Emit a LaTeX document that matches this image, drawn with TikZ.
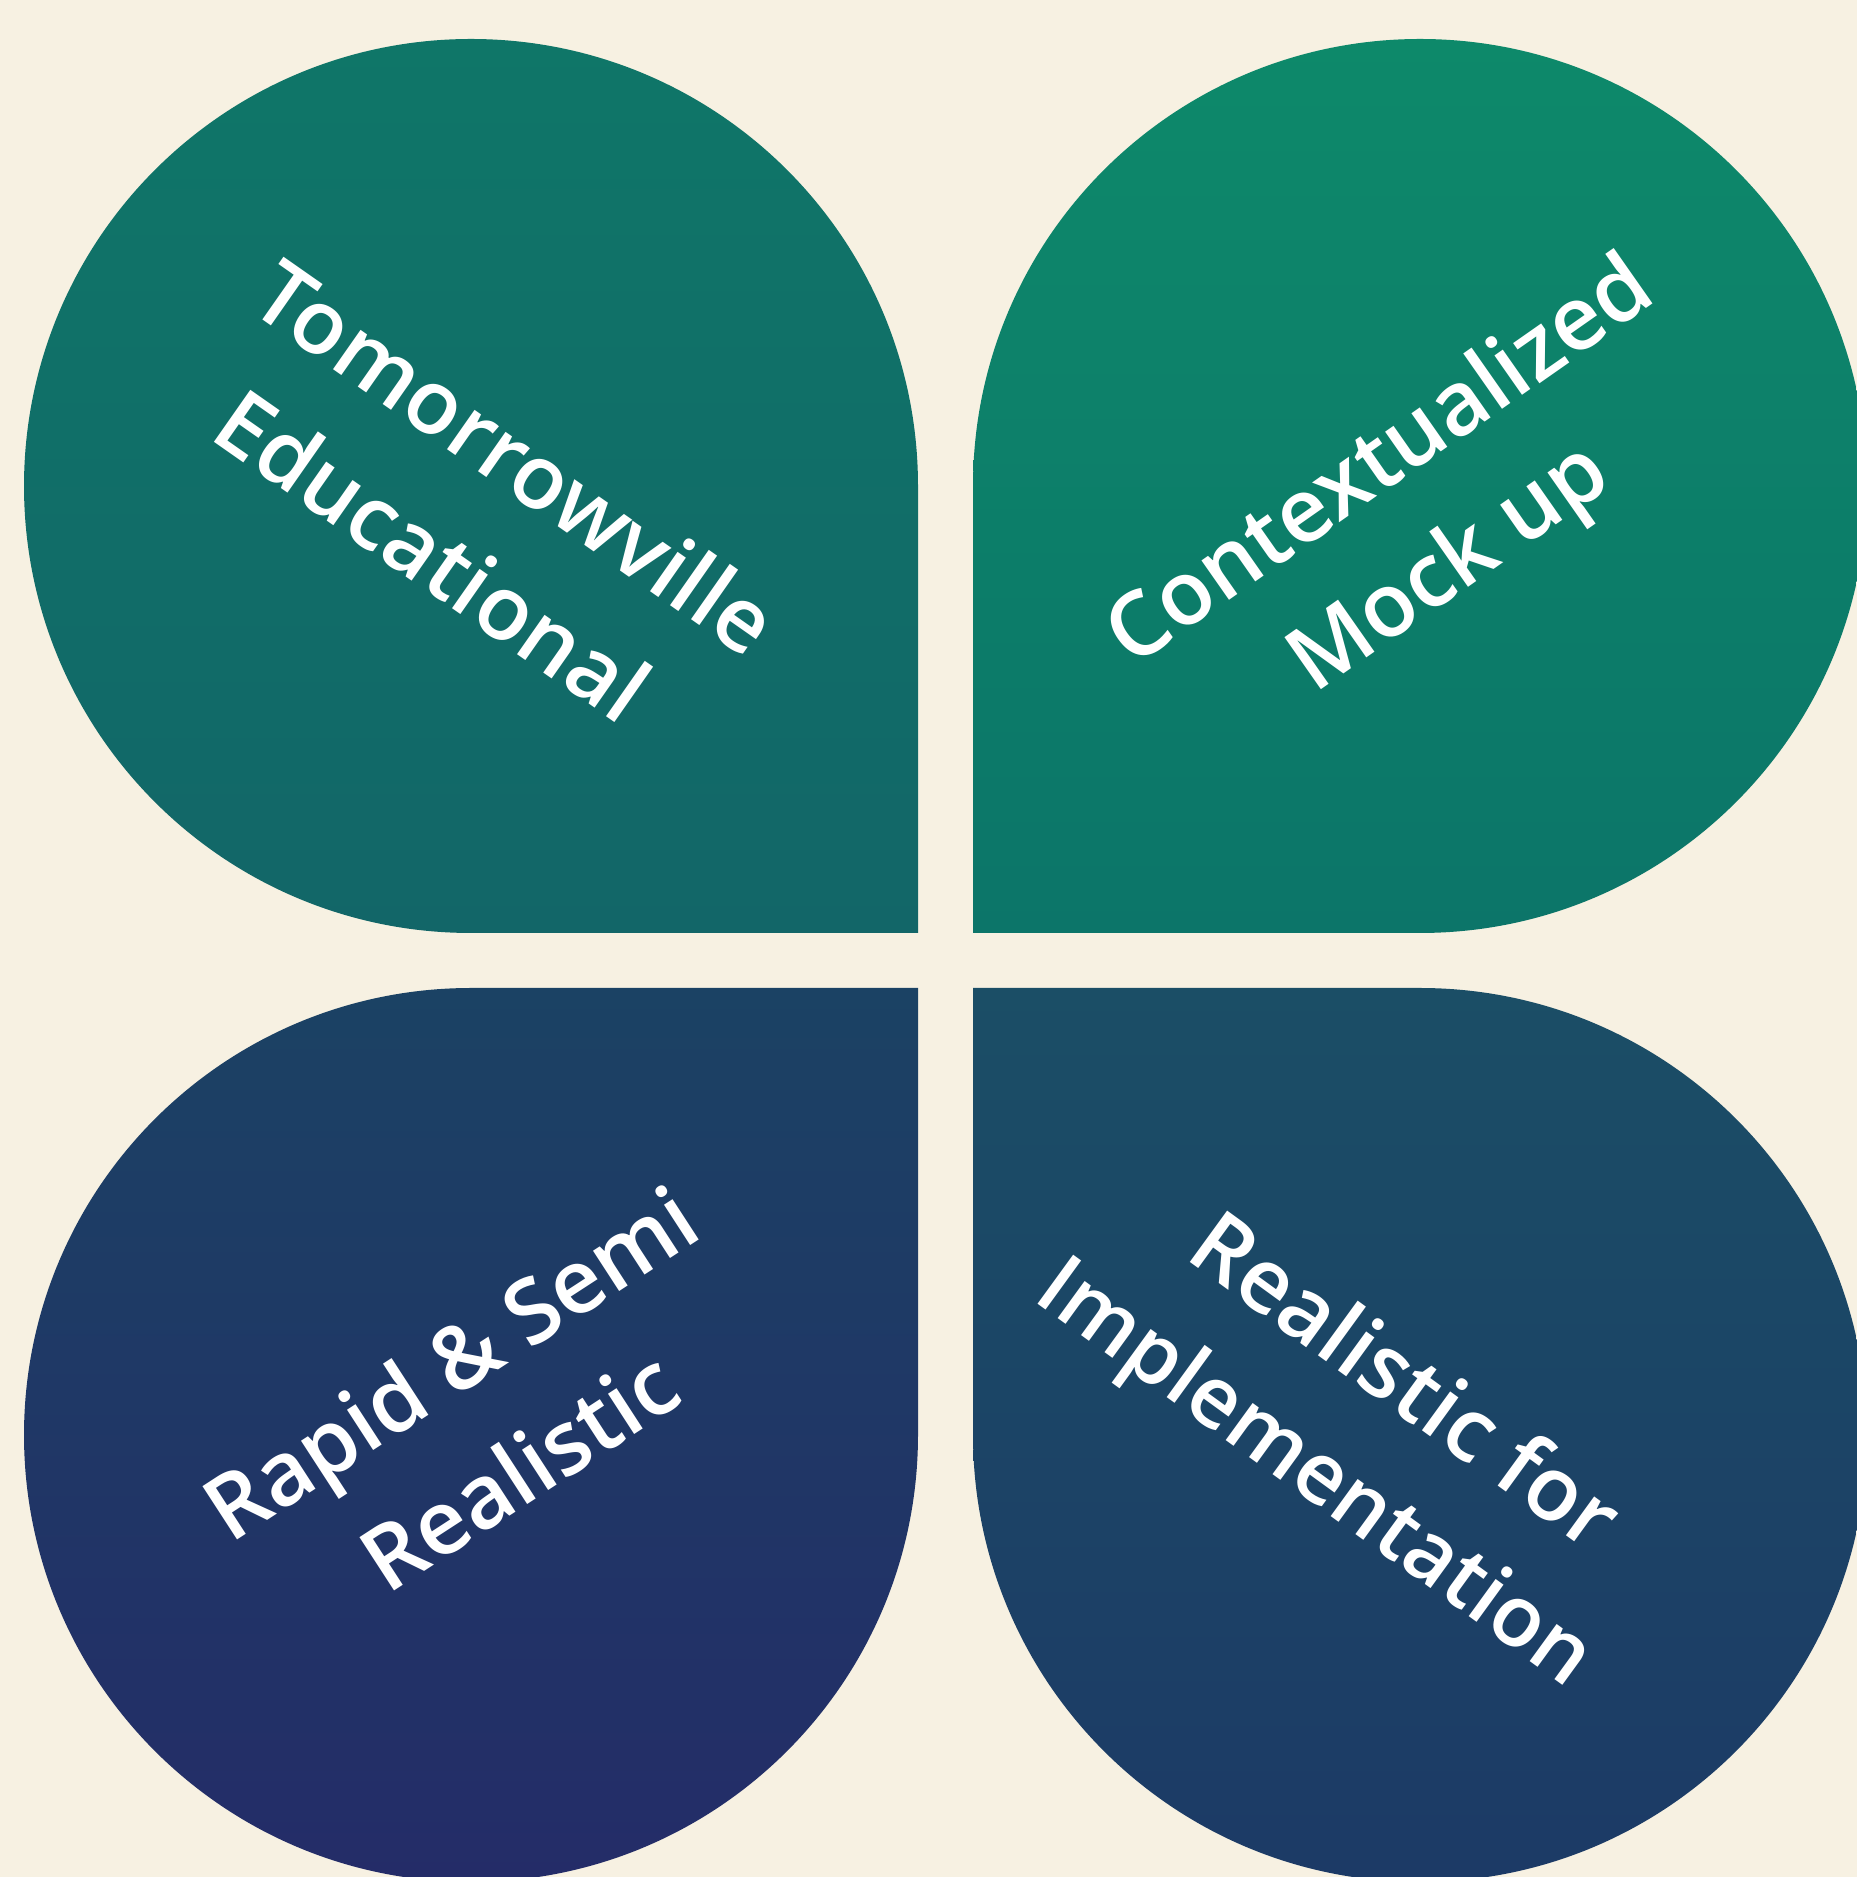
\documentclass[tikz,border=0pt]{standalone}
\usepackage{fontspec}
\IfFontExistsTF{Open Sans SemiBold}{\newfontfamily\lblfont{Open Sans SemiBold}}{%
  \IfFontExistsTF{Open Sans Semibold}{\newfontfamily\lblfont{Open Sans Semibold}}{%
    \newfontfamily\lblfontX{Open Sans}\def\lblfont{\lblfontX\bfseries}}}
\definecolor{bgc}{HTML}{F7F1E2}
\definecolor{tlA}{HTML}{0F7668}
\definecolor{tlB}{HTML}{126668}
\definecolor{trA}{HTML}{0D896A}
\definecolor{trB}{HTML}{0C7569}
\definecolor{blA}{HTML}{1B4264}
\definecolor{blB}{HTML}{242C68}
\definecolor{brA}{HTML}{1B4E66}
\definecolor{brB}{HTML}{1C3A66}
\tikzset{
  leaf/.style={shading angle=45},
  lbl/.style={text=white, anchor=base, inner sep=0pt, font=\lblfont\fontsize{89}{120}\selectfont},
  lblsm/.style={lbl, font=\lblfont\fontsize{85}{120}\selectfont}
}
\begin{document}
\begin{tikzpicture}[x=1pt,y=1pt]
\useasboundingbox (0,0) rectangle (1857,1877);
\clip (0,0) rectangle (1857,1877);
\fill[bgc] (0,0) rectangle (1857,1877);
% top-left leaf
\shade[leaf, top color=tlA, bottom color=tlB] (918,1390) -- (918,944) -- (471,944) arc[start angle=-90, end angle=-360, radius=447] -- cycle;
% top-right leaf
\shade[leaf, top color=trA, bottom color=trB] (973,1390) -- (973,944) -- (1420,944) arc[start angle=-90, end angle=180, radius=447] -- cycle;
% bottom-left leaf
\shade[leaf, top color=blA, bottom color=blB] (918,442) -- (918,889) -- (471,889) arc[start angle=90, end angle=360, radius=447] -- cycle;
% bottom-right leaf
\shade[leaf, top color=brA, bottom color=brB] (973,442) -- (973,889) -- (1420,889) arc[start angle=90, end angle=-180, radius=447] -- cycle;
% labels (one node per line, placed at the baseline centre)
\node[lbl, rotate=-35] (tl1) at (497,1393) {Tomorrowville};
\node[lbl, rotate=-35] (tl2) at (414,1295) {Educational};
\node[lbl, rotate=35] (tr1) at (1396,1393) {Contextualized};
\node[lbl, rotate=35] (tr2) at (1464.5,1287.5) {Mock up};
\node[lbl, rotate=33] (bl1) at (468,487) {Rapid \& Semi};
\node[lbl, rotate=33] (bl2) at (537,379) {Realistic};
\node[lbl, rotate=-36] (br1) at (1387.5,471) {Realistic for};
\node[lblsm, rotate=-36] (br2) at (1300,383) {Implementation};
\end{tikzpicture}
\end{document}
